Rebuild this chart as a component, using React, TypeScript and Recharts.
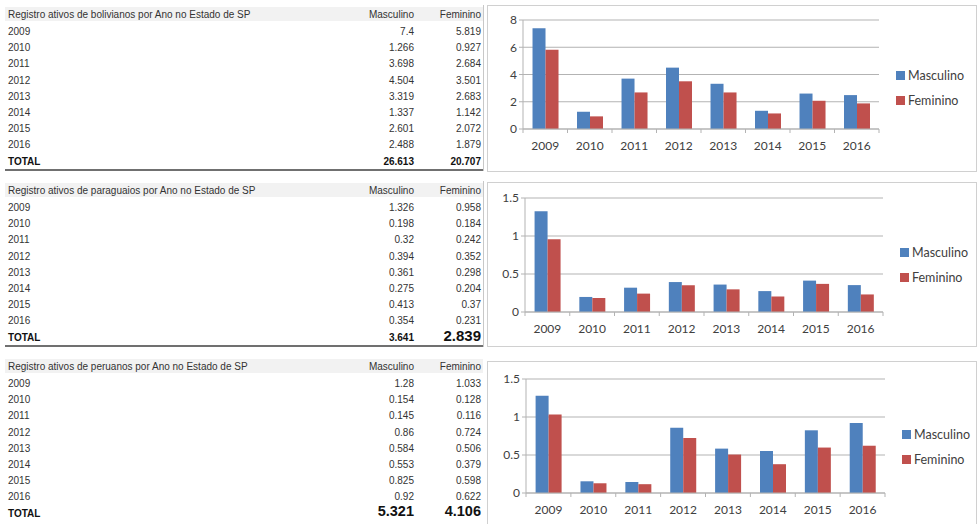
import React from 'react'
import { BarChart, Bar, XAxis, YAxis, CartesianGrid } from 'recharts'

const years = ['2009', '2010', '2011', '2012', '2013', '2014', '2015', '2016']

const bolMasc = [7.4, 1.266, 3.698, 4.504, 3.319, 1.337, 2.601, 2.488]
const bolFem = [5.819, 0.927, 2.684, 3.501, 2.683, 1.142, 2.072, 1.879]
const bolTotals = ['26.613', '20.707']

const parMasc = [1.326, 0.198, 0.32, 0.394, 0.361, 0.275, 0.413, 0.354]
const parFem = [0.958, 0.184, 0.242, 0.352, 0.298, 0.204, 0.37, 0.231]
const parTotals = ['3.641', '2.839']

const perMasc = [1.28, 0.154, 0.145, 0.86, 0.584, 0.553, 0.825, 0.92]
const perFem = [1.033, 0.128, 0.116, 0.724, 0.506, 0.379, 0.598, 0.622]
const perTotals = ['5.321', '4.106']

const bolTicks = [0, 2, 4, 6, 8]
const smallTicks = [0, 0.5, 1, 1.5]

const BLUE = '#4f81bd'
const RED = '#c0504d'
const GRID = '#b3b3b3'
const TXT = '#404040'
const CHART_FONT = 'Lato, "Open Sans", sans-serif'
const TABLE_FONT = '"Liberation Sans", Arial, sans-serif'

const toRows = (m: number[], f: number[]) =>
  years.map((y, i) => ({ year: y, Masculino: m[i], Feminino: f[i] }))

interface TableProps {
  title: string
  masc: number[]
  fem: number[]
  totals: string[]
  top: number
  totalSizes: number[]
}

function DataTable({ title, masc, fem, totals, top, totalSizes }: TableProps) {
  const rowH = 16.2
  const cell: React.CSSProperties = { position: 'absolute', whiteSpace: 'nowrap', lineHeight: '14px' }
  const totalBottom = 166 - (33 + 8 * rowH) + 1
  return (
    <div style={{ position: 'absolute', left: 5, top, width: 478, height: 166, fontFamily: TABLE_FONT, fontSize: 10, color: '#333' }}>
      <div style={{ position: 'absolute', left: 0, top: 2, width: 478, height: 14, background: '#f2f2f2' }} />
      <div style={{ ...cell, left: 3, top: 3 }}>{title}</div>
      <div style={{ ...cell, right: 69, top: 3 }}>Masculino</div>
      <div style={{ ...cell, right: 2, top: 3 }}>Feminino</div>
      {years.map((y, i) => (
        <React.Fragment key={y}>
          <div style={{ ...cell, left: 3, top: 20 + i * rowH }}>{y}</div>
          <div style={{ ...cell, right: 69, top: 20 + i * rowH }}>{String(masc[i])}</div>
          <div style={{ ...cell, right: 2, top: 20 + i * rowH }}>{String(fem[i])}</div>
        </React.Fragment>
      ))}
      <div style={{ ...cell, left: 3, top: 20 + 8 * rowH, fontWeight: 'bold', color: '#111' }}>TOTAL</div>
      <div style={{ ...cell, right: 69, bottom: totalBottom, lineHeight: 1, fontWeight: 'bold', color: '#111', fontSize: totalSizes[0] }}>{totals[0]}</div>
      <div style={{ ...cell, right: 2, bottom: totalBottom, lineHeight: 1, fontWeight: 'bold', color: '#111', fontSize: totalSizes[1] }}>{totals[1]}</div>
    </div>
  )
}

function makeTick(band: number, last: number) {
  return (props: any) => {
    const { x, y, payload, index } = props
    return (
      <g>
        <line x1={x - band / 2} y1={y - 8} x2={x - band / 2} y2={y - 4} stroke={GRID} />
        {index === last && <line x1={x + band / 2} y1={y - 8} x2={x + band / 2} y2={y - 4} stroke={GRID} />}
        <text x={x} y={y + 13} textAnchor="middle" fill={TXT} fontSize={12} fontFamily={CHART_FONT}>
          {payload.value}
        </text>
      </g>
    )
  }
}

function LegendBox({ left, top }: { left: number; top: number }) {
  const item = (color: string, label: string) => (
    <div style={{ display: 'flex', alignItems: 'center', height: 25 }}>
      <span style={{ display: 'inline-block', width: 9, height: 9, background: color, marginRight: 3 }} />
      <span style={{ fontSize: 12.5, color: TXT, fontFamily: CHART_FONT }}>{label}</span>
    </div>
  )
  return (
    <div style={{ position: 'absolute', left, top }}>
      {item(BLUE, 'Masculino')}
      {item(RED, 'Feminino')}
    </div>
  )
}

interface ChartProps {
  data: { year: string; Masculino: number; Feminino: number }[]
  ticks: number[]
  left: number
  top: number
  height: number
  plotLeft: number
  plotTop: number
  plotW: number
  plotH: number
  legendTop: number
  showBottom: boolean
}

function GenderChart({ data, ticks, left, top, height, plotLeft, plotTop, plotW, plotH, legendTop, showBottom }: ChartProps) {
  const width = 488
  const band = plotW / data.length
  return (
    <div
      style={{
        position: 'absolute',
        left,
        top,
        width,
        height,
        border: '1px solid #d0d0d0',
        borderBottom: showBottom ? '1px solid #d0d0d0' : 'none',
        background: '#fff',
      }}
    >
      <BarChart
        width={width}
        height={plotTop + plotH + 30}
        data={data}
        margin={{ top: plotTop, left: 0, right: width - plotLeft - plotW, bottom: 0 }}
        barCategoryGap="21.4%"
        barGap={0}
      >
        <CartesianGrid vertical={false} stroke={GRID} />
        <XAxis
          dataKey="year"
          height={30}
          axisLine={{ stroke: GRID }}
          tickLine={false}
          interval={0}
          tick={makeTick(band, data.length - 1)}
        />
        <YAxis
          width={plotLeft}
          domain={[ticks[0], ticks[ticks.length - 1]]}
          ticks={ticks}
          axisLine={{ stroke: GRID }}
          tickLine={{ stroke: GRID }}
          tickSize={4}
          tick={{ fill: TXT, fontSize: 12, fontFamily: CHART_FONT }}
        />
        <Bar dataKey="Masculino" fill={BLUE} isAnimationActive={false} />
        <Bar dataKey="Feminino" fill={RED} isAnimationActive={false} />
      </BarChart>
      <LegendBox left={plotLeft + plotW + 17} top={legendTop} />
    </div>
  )
}

export default function App() {
  return (
    <div style={{ position: 'fixed', left: 0, top: 0, width: 978, height: 524, overflow: 'hidden', background: '#fff' }}>
      <DataTable title="Registro ativos de bolivianos por Ano no Estado de SP" masc={bolMasc} fem={bolFem} totals={bolTotals} top={5} totalSizes={[10, 10]} />
      <div style={{ position: 'absolute', left: 5, top: 169, width: 478, height: 2, background: '#707070' }} />
      <div style={{ position: 'absolute', left: 483, top: 5, width: 1, height: 166, background: '#c8c8c8' }} />

      <DataTable title="Registro ativos de paraguaios por Ano no Estado de SP" masc={parMasc} fem={parFem} totals={parTotals} top={181} totalSizes={[10, 15]} />
      <div style={{ position: 'absolute', left: 5, top: 345, width: 478, height: 2, background: '#707070' }} />
      <div style={{ position: 'absolute', left: 483, top: 181, width: 1, height: 166, background: '#c8c8c8' }} />

      <DataTable title="Registro ativos de peruanos por Ano no Estado de SP" masc={perMasc} fem={perFem} totals={perTotals} top={357} totalSizes={[14.5, 14.5]} />

      <GenderChart data={toRows(bolMasc, bolFem)} ticks={bolTicks} left={487} top={5} height={165} plotLeft={35} plotTop={14} plotW={356} plotH={109} legendTop={57} showBottom />
      <GenderChart data={toRows(parMasc, parFem)} ticks={smallTicks} left={487} top={182} height={163} plotLeft={37} plotTop={15} plotW={358} plotH={114} legendTop={57} showBottom />
      <GenderChart data={toRows(perMasc, perFem)} ticks={smallTicks} left={487} top={361} height={170} plotLeft={38} plotTop={17} plotW={359} plotH={114} legendTop={60} showBottom={false} />
    </div>
  )
}
